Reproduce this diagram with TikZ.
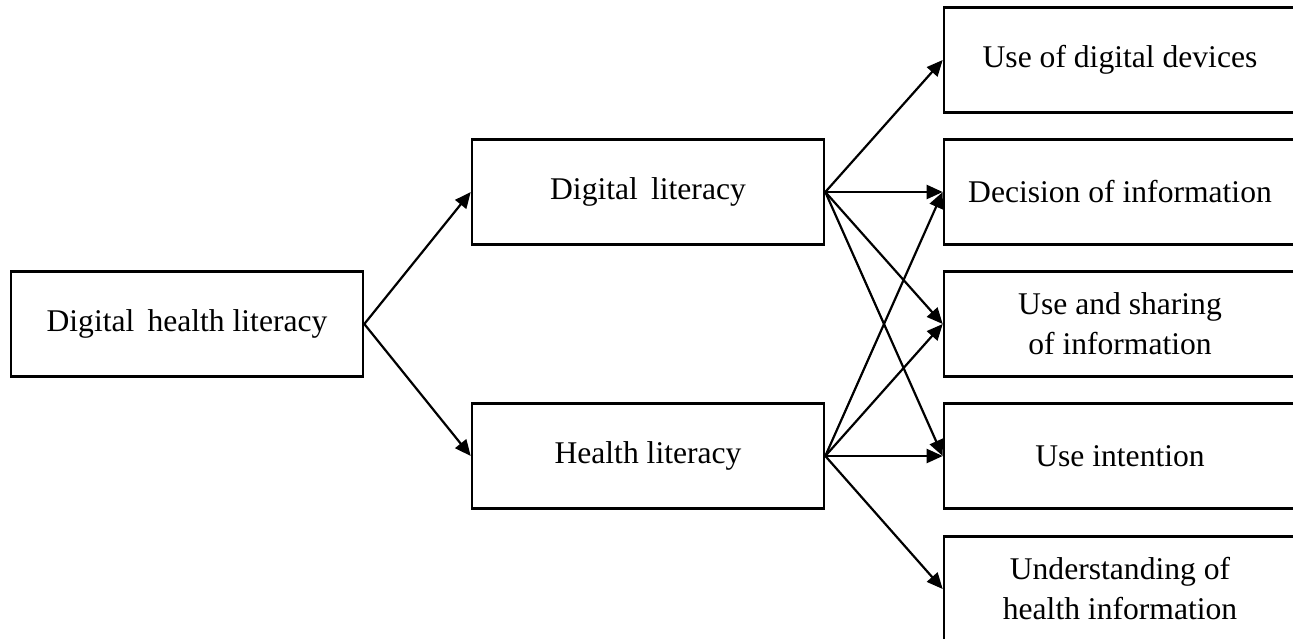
\documentclass[tikz,border=0pt]{standalone}
\usepackage{fontspec}
\setmainfont{Liberation Serif}
\usetikzlibrary{arrows.meta}
\begin{document}
\begin{tikzpicture}[x=1pt,y=-1pt,
  box/.style={draw=black,line width=2.6pt,rectangle,minimum width=352pt,minimum height=105pt,inner sep=0pt,align=center,font=\fontsize{31.6}{40}\selectfont},
  arr/.style={line width=2.2pt,-{Triangle[length=16pt,width=14pt]}}]
\clip (0,0) rectangle (1293,638);
\useasboundingbox (0,0) rectangle (1293,638);
\node[box] (dhl) at (187,324) {Digital\, health literacy};
\node[box] (dl) at (648,192) {Digital\, literacy};
\node[box] (hl) at (648,456) {Health literacy};
\node[box] (r1) at (1120,60) {Use of digital devices};
\node[box] (r2) at (1120,192) {Decision of information};
\node[box] (r3) at (1120,324) {Use and sharing\\of information};
\node[box] (r4) at (1120,456) {Use intention};
\node[box] (r5) at (1120,589) {Understanding of\\health information};
\draw[arr] (dhl.east) -- (dl.west);
\draw[arr] (dhl.east) -- (hl.west);
\foreach \t in {r1,r2,r3,r4} \draw[arr] (dl.east) -- (\t.west);
\foreach \t in {r2,r3,r4,r5} \draw[arr] (hl.east) -- (\t.west);
\end{tikzpicture}
\end{document}
